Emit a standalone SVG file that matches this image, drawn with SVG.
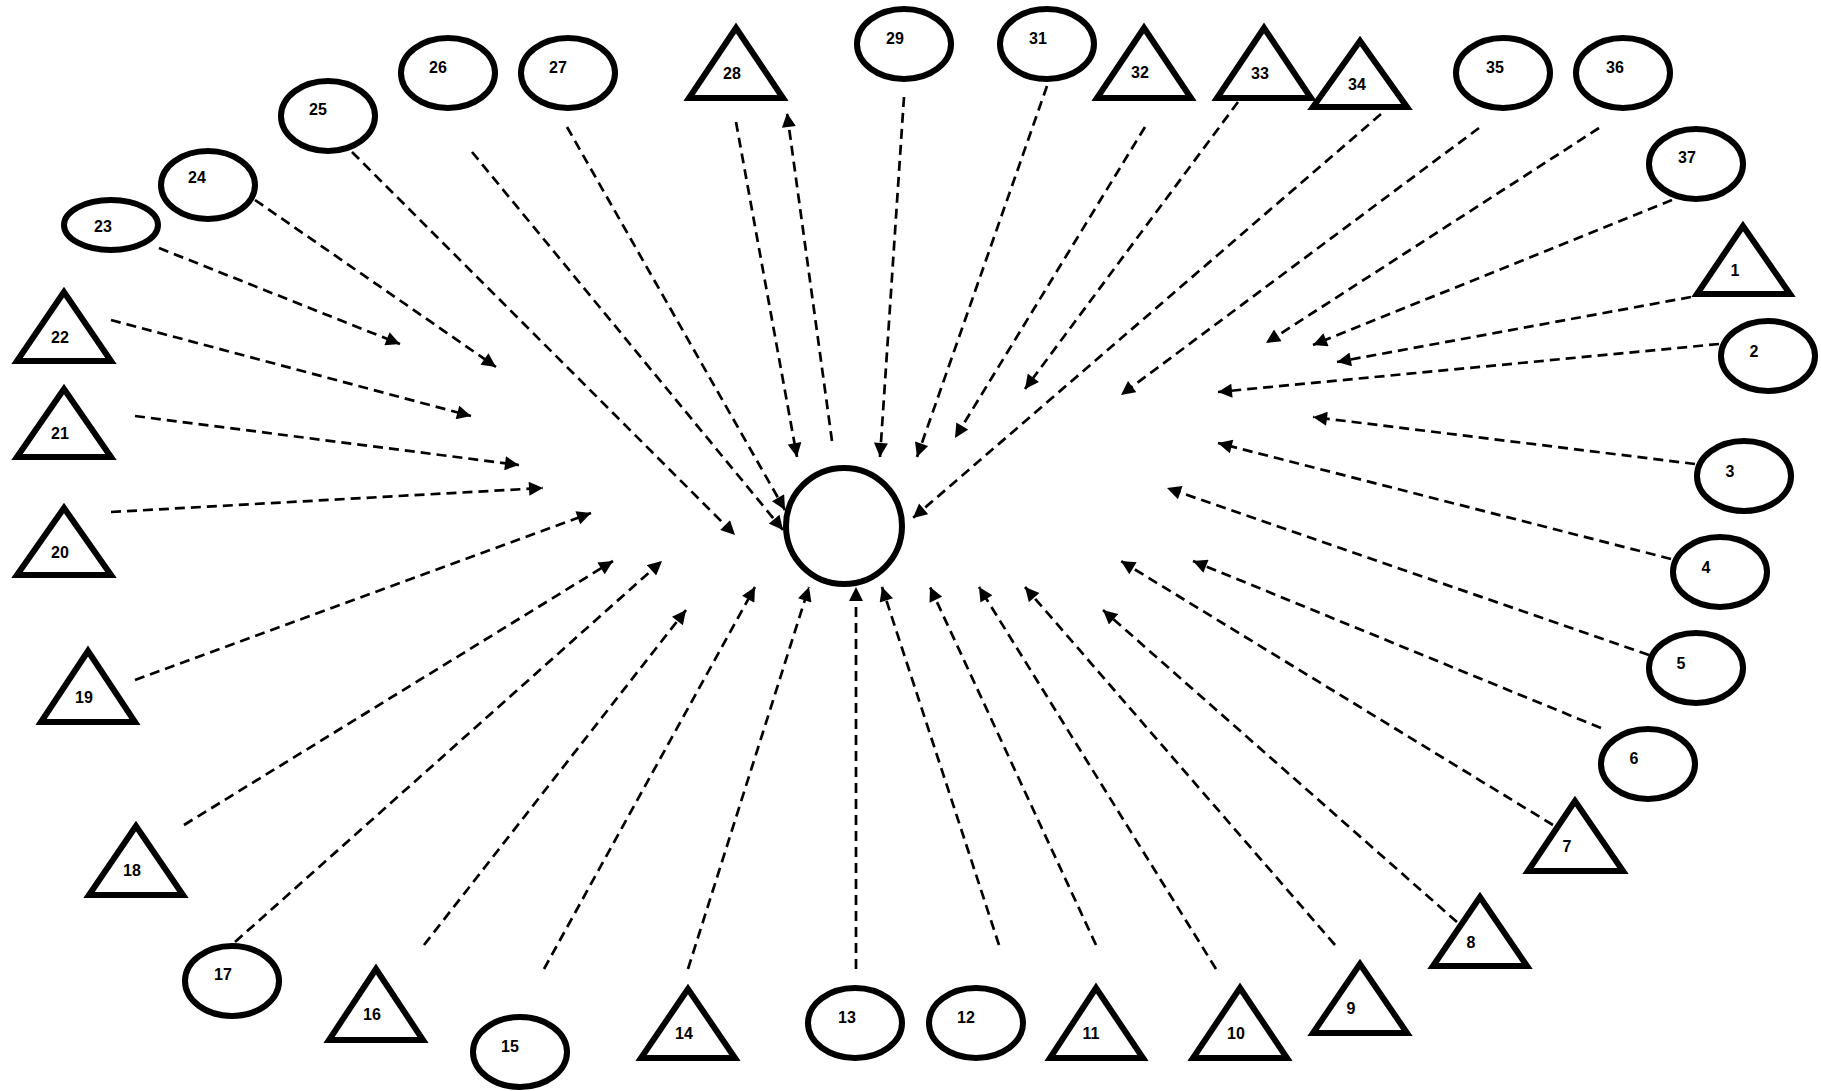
<svg xmlns="http://www.w3.org/2000/svg" width="1821" height="1091" viewBox="0 0 1821 1091">
<style>
.n{fill:#fff;stroke:#000;stroke-width:6;stroke-linejoin:miter}
.t{font-family:"Liberation Sans",Arial,sans-serif;font-weight:bold;font-size:16px;fill:#000;text-anchor:middle;dominant-baseline:central}
.e{fill:none;stroke:#000;stroke-width:2.7;stroke-dasharray:10 6;marker-end:url(#ah)}
</style>
<defs>
<marker id="ah" viewBox="0 0 10 10" refX="10" refY="5" markerWidth="15" markerHeight="14" markerUnits="userSpaceOnUse" orient="auto">
<path d="M0,0 L10,5 L0,10 z" fill="#000"/>
</marker>
</defs>
<rect width="1821" height="1091" fill="#fff"/>
<g id="connectors">
<line class="e" x1="736" y1="122" x2="797" y2="457"/>
<line class="e" x1="832" y1="441" x2="787" y2="113"/>
<line class="e" x1="904" y1="97" x2="880" y2="457"/>
<line class="e" x1="1047" y1="86" x2="917" y2="457"/>
<line class="e" x1="1145" y1="127" x2="955" y2="438"/>
<line class="e" x1="1238" y1="102" x2="1025" y2="389"/>
<line class="e" x1="1381" y1="114" x2="913" y2="518"/>
<line class="e" x1="1479" y1="128" x2="1121" y2="395"/>
<line class="e" x1="1599" y1="128" x2="1266" y2="343"/>
<line class="e" x1="1672" y1="200" x2="1313" y2="345"/>
<line class="e" x1="1691" y1="297" x2="1337" y2="362"/>
<line class="e" x1="1719" y1="344" x2="1218" y2="392"/>
<line class="e" x1="1695" y1="464" x2="1313" y2="417"/>
<line class="e" x1="1671" y1="559" x2="1218" y2="443"/>
<line class="e" x1="1649" y1="655" x2="1167" y2="488"/>
<line class="e" x1="1601" y1="728" x2="1193" y2="561"/>
<line class="e" x1="1553" y1="825" x2="1121" y2="561"/>
<line class="e" x1="1457" y1="922" x2="1103" y2="610"/>
<line class="e" x1="1335" y1="945" x2="1025" y2="587"/>
<line class="e" x1="1216" y1="969" x2="979" y2="587"/>
<line class="e" x1="1096" y1="945" x2="930" y2="587"/>
<line class="e" x1="999" y1="945" x2="882" y2="587"/>
<line class="e" x1="856" y1="969" x2="856" y2="587"/>
<line class="e" x1="688" y1="969" x2="809" y2="587"/>
<line class="e" x1="544" y1="969" x2="755" y2="587"/>
<line class="e" x1="424" y1="945" x2="686" y2="610"/>
<line class="e" x1="235" y1="942" x2="662" y2="561"/>
<line class="e" x1="184" y1="825" x2="613" y2="561"/>
<line class="e" x1="135" y1="680" x2="591" y2="513"/>
<line class="e" x1="111" y1="512" x2="543" y2="488"/>
<line class="e" x1="135" y1="416" x2="519" y2="465"/>
<line class="e" x1="111" y1="320" x2="471" y2="416"/>
<line class="e" x1="159" y1="248" x2="400" y2="344"/>
<line class="e" x1="255" y1="200" x2="496" y2="367"/>
<line class="e" x1="352" y1="152" x2="735" y2="535"/>
<line class="e" x1="472" y1="152" x2="783" y2="530"/>
<line class="e" x1="567" y1="127" x2="785" y2="510"/>
</g>
<g id="center"><circle class="n" cx="844" cy="526" r="58"/></g>
<g id="n1"><polygon class="n" points="1743,226 1697,294 1790,294"/><text class="t" x="1735" y="270">1</text></g>
<g id="n2"><ellipse class="n" cx="1768" cy="356" rx="47" ry="35"/><text class="t" x="1754" y="351">2</text></g>
<g id="n3"><ellipse class="n" cx="1744" cy="476" rx="47" ry="35"/><text class="t" x="1730" y="471">3</text></g>
<g id="n4"><ellipse class="n" cx="1720" cy="572" rx="47" ry="35"/><text class="t" x="1706" y="567">4</text></g>
<g id="n5"><ellipse class="n" cx="1696" cy="668" rx="47" ry="35"/><text class="t" x="1681" y="663">5</text></g>
<g id="n6"><ellipse class="n" cx="1648" cy="764" rx="47" ry="35"/><text class="t" x="1634" y="758">6</text></g>
<g id="n7"><polygon class="n" points="1575,801 1528,871 1623,871"/><text class="t" x="1567" y="846">7</text></g>
<g id="n8"><polygon class="n" points="1480,897 1433,966 1527,966"/><text class="t" x="1471" y="942">8</text></g>
<g id="n9"><polygon class="n" points="1360,964 1313,1033 1407,1033"/><text class="t" x="1351" y="1008">9</text></g>
<g id="n10"><polygon class="n" points="1240,988 1193,1058 1287,1058"/><text class="t" x="1236" y="1033">10</text></g>
<g id="n11"><polygon class="n" points="1096,988 1050,1058 1143,1058"/><text class="t" x="1091" y="1033">11</text></g>
<g id="n12"><ellipse class="n" cx="976" cy="1023" rx="47" ry="35"/><text class="t" x="966" y="1017">12</text></g>
<g id="n13"><ellipse class="n" cx="855" cy="1023" rx="47" ry="35"/><text class="t" x="847" y="1017">13</text></g>
<g id="n14"><polygon class="n" points="688,989 641,1058 735,1058"/><text class="t" x="684" y="1033">14</text></g>
<g id="n15"><ellipse class="n" cx="520" cy="1052" rx="47" ry="35"/><text class="t" x="510" y="1046">15</text></g>
<g id="n16"><polygon class="n" points="376,969 329,1040 423,1040"/><text class="t" x="372" y="1014">16</text></g>
<g id="n17"><ellipse class="n" cx="232" cy="981" rx="47" ry="35"/><text class="t" x="223" y="974">17</text></g>
<g id="n18"><polygon class="n" points="136,826 89,895 183,895"/><text class="t" x="132" y="870">18</text></g>
<g id="n19"><polygon class="n" points="88,651 41,722 135,722"/><text class="t" x="84" y="697">19</text></g>
<g id="n20"><polygon class="n" points="64,508 17,575 111,575"/><text class="t" x="60" y="552">20</text></g>
<g id="n21"><polygon class="n" points="64,389 17,457 111,457"/><text class="t" x="60" y="433">21</text></g>
<g id="n22"><polygon class="n" points="64,292 17,361 111,361"/><text class="t" x="60" y="337">22</text></g>
<g id="n23"><ellipse class="n" cx="111" cy="225" rx="47" ry="25"/><text class="t" x="103" y="226">23</text></g>
<g id="n24"><ellipse class="n" cx="208" cy="185" rx="47" ry="34"/><text class="t" x="197" y="177">24</text></g>
<g id="n25"><ellipse class="n" cx="328" cy="116" rx="47" ry="35"/><text class="t" x="318" y="109">25</text></g>
<g id="n26"><ellipse class="n" cx="448" cy="73" rx="47" ry="35"/><text class="t" x="438" y="67">26</text></g>
<g id="n27"><ellipse class="n" cx="568" cy="73" rx="47" ry="35"/><text class="t" x="558" y="67">27</text></g>
<g id="n28"><polygon class="n" points="736,28 689,98 783,98"/><text class="t" x="732" y="73">28</text></g>
<g id="n29"><ellipse class="n" cx="904" cy="44" rx="47" ry="35"/><text class="t" x="895" y="38">29</text></g>
<g id="n31"><ellipse class="n" cx="1047" cy="44" rx="47" ry="35"/><text class="t" x="1038" y="38">31</text></g>
<g id="n32"><polygon class="n" points="1144,28 1097,98 1191,98"/><text class="t" x="1140" y="72">32</text></g>
<g id="n33"><polygon class="n" points="1264,28 1217,98 1311,98"/><text class="t" x="1260" y="73">33</text></g>
<g id="n34"><polygon class="n" points="1360,41 1313,107 1407,107"/><text class="t" x="1357" y="84">34</text></g>
<g id="n35"><ellipse class="n" cx="1503" cy="73" rx="47" ry="35"/><text class="t" x="1495" y="67">35</text></g>
<g id="n36"><ellipse class="n" cx="1623" cy="73" rx="47" ry="35"/><text class="t" x="1615" y="67">36</text></g>
<g id="n37"><ellipse class="n" cx="1696" cy="164" rx="47" ry="35"/><text class="t" x="1687" y="157">37</text></g>
</svg>
